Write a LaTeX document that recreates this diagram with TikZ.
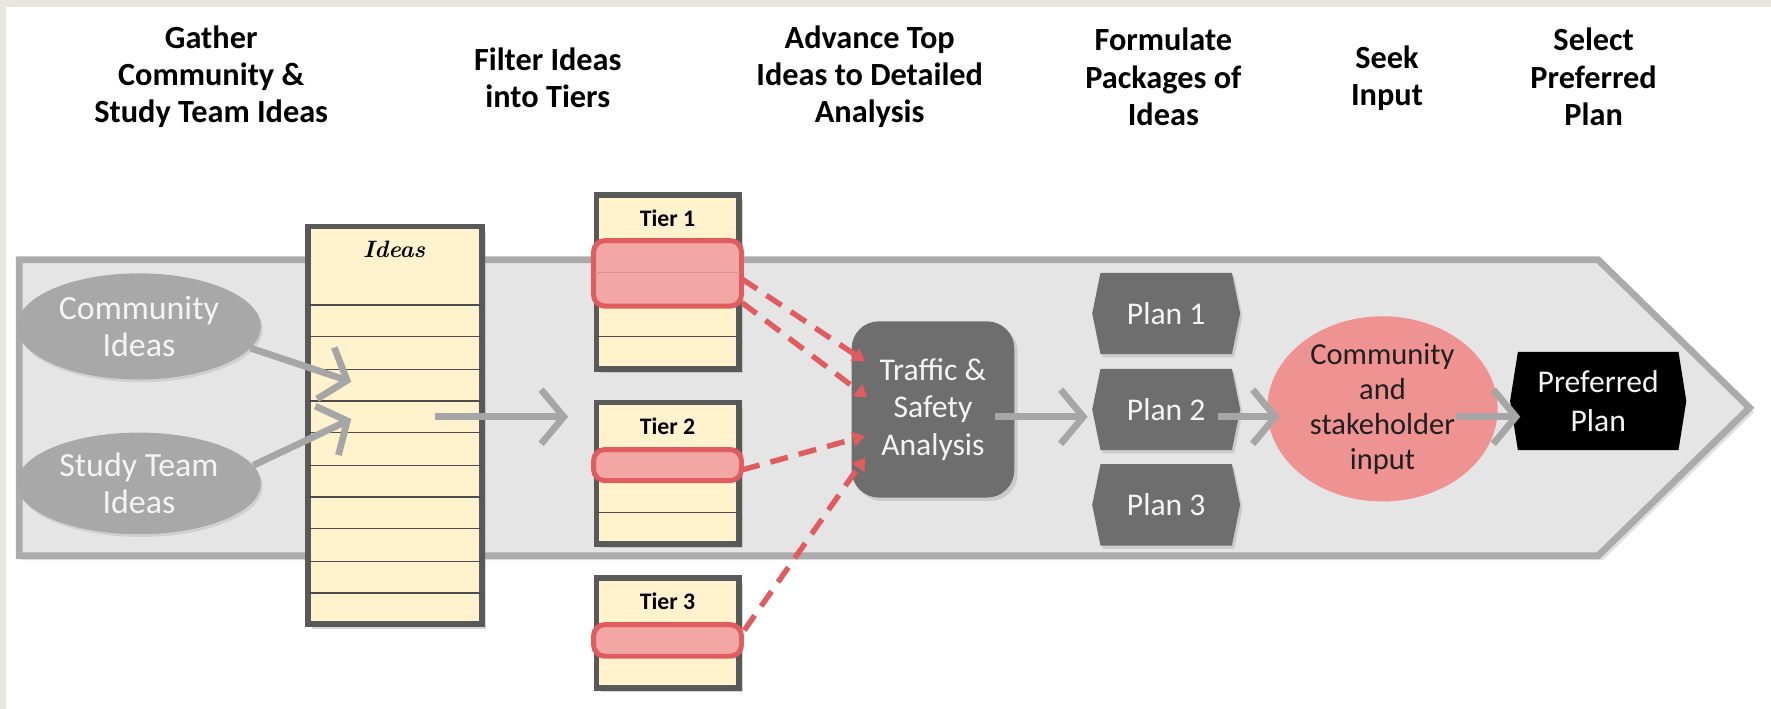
\documentclass[tikz,border=0pt]{standalone}
\usepackage{fontspec}
\setmainfont{Carlito}
\newfontfamily\lmr{Latin Modern Roman}
\usetikzlibrary{arrows.meta,shapes.geometric,shapes.symbols,shadows}
\definecolor{frame}{HTML}{E8E6DE}
\definecolor{bandfill}{HTML}{E5E5E5}
\definecolor{bandline}{HTML}{ABABAB}
\definecolor{paper}{HTML}{FFF2CC}
\definecolor{boxline}{HTML}{595959}
\definecolor{hl}{HTML}{F2A7A5}
\definecolor{hldiv}{HTML}{DE8E8C}
\definecolor{hlline}{HTML}{E05C5E}
\definecolor{darkbox}{HTML}{6E6E6E}
\definecolor{arrowgray}{HTML}{A6A6A6}
\definecolor{pinkc}{HTML}{EF9292}
\definecolor{ovalgray}{HTML}{A8A8A8}
\definecolor{softwhite}{HTML}{F4F4F4}
\begin{document}
\begin{tikzpicture}[x=0.5pt,y=-0.5pt,
  hdr/.style={align=center,font=\bfseries\fontsize{14.3}{16.5}\selectfont,inner sep=0pt},
  oval/.style={ellipse,fill=ovalgray,minimum width=107pt,minimum height=46pt,inner sep=0pt,
    align=center,text=softwhite,font=\fontsize{15}{16.5}\selectfont,
    drop shadow={shadow xshift=0.8pt,shadow yshift=-1.2pt,opacity=0.2}},
  paperbox/.style={draw=boxline,fill=paper,line width=2.5pt,inner sep=0pt,
    drop shadow={shadow xshift=2pt,shadow yshift=-2pt,opacity=0.3}},
  rowline/.style={draw=black!70,line width=0.6pt},
  hlbox/.style={draw=hlline,fill=hl,line width=2.2pt,rounded corners=5pt},
  tiertxt/.style={font=\bfseries\fontsize{10.5}{12}\selectfont,inner sep=0pt},
  garrow/.style={draw=arrowgray,line width=3pt,-{Straight Barb[length=10pt,width=24pt]}},
  rarrow/.style={draw=hlline,line width=2.4pt,dash pattern=on 8pt off 5pt,
    -{Triangle[length=5.5pt,width=6.5pt]}},
  darkbox/.style={rectangle,rounded corners=12pt,fill=darkbox,text=softwhite,align=center,
    font=\fontsize{14}{16.5}\selectfont,inner sep=0pt,
    drop shadow={shadow xshift=1.5pt,shadow yshift=-1.5pt,opacity=0.25}},
  planbox/.style={signal,signal to=east and west,signal pointer angle=157,fill=darkbox,
    text=softwhite,font=\fontsize{14}{16.5}\selectfont,inner sep=0pt,
    minimum width=65.5pt,minimum height=36pt,
    drop shadow={shadow xshift=1pt,shadow yshift=-1.5pt,opacity=0.25}}]
\useasboundingbox (0,0) rectangle (1568,627.7);
\fill[frame] (0,0) rectangle (1568,627.7);
\fill[white] (5,6.5) rectangle (1568,627.7);

% header texts
\node[hdr] (h1) at (187,68) {Gather\\Community \&\\Study Team Ideas};
\node[hdr] (h2) at (485,69) {Filter Ideas\\into Tiers};
\node[hdr] (h3) at (770,68) {Advance Top\\Ideas to Detailed\\Analysis};
\node[hdr] (h4) at (1030,68) {Formulate\\Packages of\\Ideas};
\node[hdr] (h5) at (1228,69) {Seek\\Input};
\node[hdr] (h6) at (1411,68) {Select\\Preferred\\Plan};

% big process arrow
\fill[black,opacity=0.12] (19,234) -- (1419,234) -- (1553,365) -- (1419,496) -- (19,496) -- cycle;
\draw[draw=bandline,fill=bandfill,line width=3pt,line join=miter]
  (17,230) -- (1415,230) -- (1549,361) -- (1415,492) -- (17,492) -- cycle;

% idea sources
\node[oval,minimum width=108pt,minimum height=47pt] (ci) at (123,289) {Community\\Ideas};
\node[oval,minimum width=108pt,minimum height=45pt] (si) at (123,428) {Study Team\\Ideas};

% ideas list
\node[paperbox,minimum width=77pt,minimum height=176pt] (ideas) at (349.5,376.5) {};
\node[font=\lmr\bfseries\itshape\fontsize{10.5}{12}\selectfont,inner sep=0pt] (ideaslbl) at (349,221) {Ideas};
\foreach \yy in {270,298,327,355,383,412,440,468,497,525}
  \draw[rowline] (273.5,\yy) -- (426,\yy);

% tier 1
\node[paperbox,minimum width=63pt,minimum height=77pt] (t1) at (591,249.5) {};
\node[tiertxt] (t1lbl) at (591,193) {Tier 1};
\draw[rowline] (527.5,298) -- (654.5,298);
\draw[hlbox] (525.5,213) rectangle (656.5,271);
\draw[draw=hldiv,line width=0.6pt] (527,241.5) -- (655,241.5);

% tier 2
\node[paperbox,minimum width=63pt,minimum height=62.5pt] (t2) at (591,419) {};
\node[tiertxt] (t2lbl) at (591,377) {Tier 2};
\draw[rowline] (527.5,454) -- (654.5,454);
\draw[hlbox] (525.5,398) rectangle (656.5,425.5);

% tier 3
\node[paperbox,minimum width=63pt,minimum height=48.5pt] (t3) at (591,560.5) {};
\node[tiertxt] (t3lbl) at (591,532) {Tier 3};
\draw[hlbox] (525.5,553) rectangle (656.5,581);

% arrows into and out of ideas list
\coordinate (ciT) at (311,338);
\coordinate (siT) at (311,371);
\coordinate (idS) at (385,369);
\coordinate (idT) at (503,369);
\draw[garrow] (ci.-11) -- (ciT);
\draw[garrow] (si.9) -- (siT);
\draw[garrow] (idS) -- (idT);

% traffic and safety analysis
\node[darkbox,minimum width=72pt,minimum height=78pt] (tr) at (826,362.5) {Traffic \&\\Safety\\Analysis};

% dashed red connectors
\coordinate (a1s) at (657,247);
\coordinate (a2s) at (657,268);
\coordinate (a3s) at (657,416);
\coordinate (a4s) at (659,558);
\coordinate (a1e) at (766,320);
\coordinate (a2e) at (768,352);
\coordinate (a3e) at (766,386);
\coordinate (a4e) at (766,405);
\draw[rarrow] (a1s) -- (a1e);
\draw[rarrow] (a2s) -- (a2e);
\draw[rarrow] (a3s) -- (a3e);
\draw[rarrow] (a4s) -- (a4e);

% plans
\node[planbox] (p1) at (1032.5,277.5) {Plan 1};
\node[planbox] (p2) at (1032.5,362.5) {Plan 2};
\node[planbox] (p3) at (1032.5,447) {Plan 3};

% community input
\node[ellipse,fill=pinkc,minimum width=102pt,minimum height=77.5pt,inner sep=0pt,align=center,
  text=black!88,font=\fontsize{13.5}{15.5}\selectfont] (ci2) at (1224,362) {Community\\and\\stakeholder\\input};

% preferred plan
\node[signal,signal to=east and west,signal pointer angle=162,fill=black,text=softwhite,
  align=center,font=\fontsize{14}{17}\selectfont,inner sep=0pt,
  minimum width=78pt,minimum height=43.5pt] (pp) at (1415,355) {Preferred\\Plan};

% grey flow arrows
\coordinate (trS) at (881,369);
\coordinate (p2T) at (963,369);
\coordinate (p2S) at (1078,369);
\coordinate (ccT) at (1133,369);
\coordinate (ccS) at (1289,369);
\coordinate (ppT) at (1346,369);
\draw[garrow] (trS) -- (p2T);
\draw[garrow] (p2S) -- (ccT);
\draw[garrow] (ccS) -- (ppT);
\end{tikzpicture}
\end{document}
